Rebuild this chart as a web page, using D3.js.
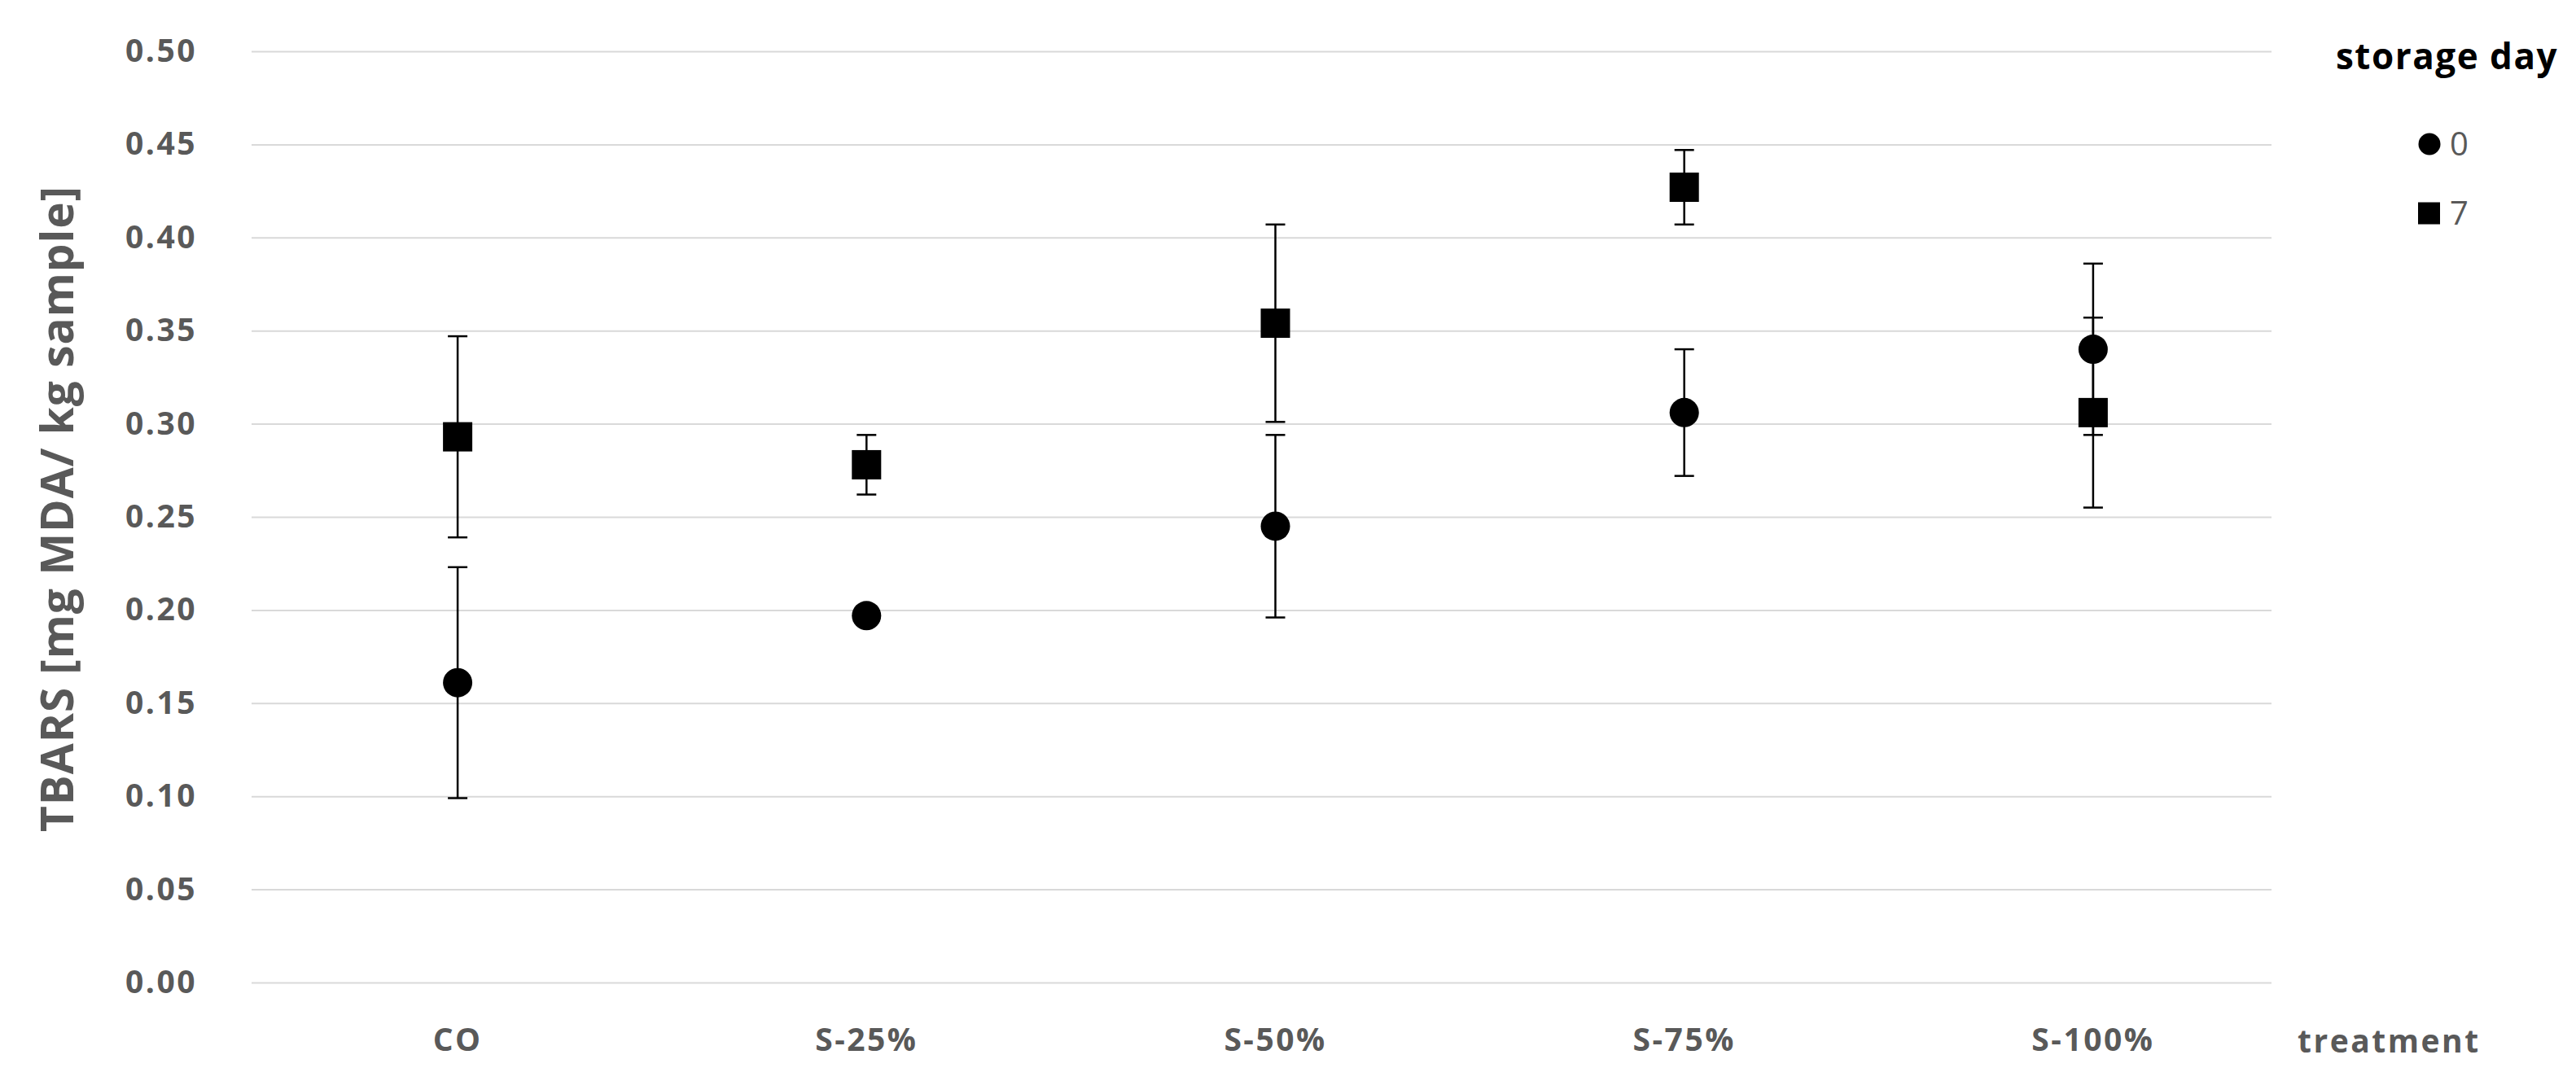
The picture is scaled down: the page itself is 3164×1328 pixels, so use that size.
<!DOCTYPE html>
<html>
<head>
<meta charset="utf-8">
<script src="https://cdn.jsdelivr.net/npm/d3@7"></script>
<style>
  body { margin: 0; background: #fff; }
  svg text { font-family: "Open Sans", "Noto Sans", sans-serif; }
</style>
</head>
<body>
<div id="chart"></div>
<script>
// Data (TBARS, mg MDA / kg sample)
const treatments = ["CO", "S-25%", "S-50%", "S-75%", "S-100%"];
const day0 = [0.161, 0.197, 0.245, 0.306, 0.340];
const err0 = [0.062, 0.002, 0.049, 0.034, 0.046];
const day7 = [0.293, 0.278, 0.354, 0.427, 0.306];
const err7 = [0.054, 0.016, 0.053, 0.020, 0.051];
const yTicks = [0, 0.05, 0.1, 0.15, 0.2, 0.25, 0.3, 0.35, 0.4, 0.45, 0.5];
const seriesNames = ["0", "7"];

const W = 3164, H = 1328;
const plot = { left: 309, right: 2790, top: 63, bottom: 1207 };
const grey = "#595959";

const svg = d3.select("#chart").append("svg")
  .attr("width", W).attr("height", H);

// scales
const x = d3.scaleBand().domain(treatments).range([311, 2822]);
const xc = (d) => x(d) + x.bandwidth() / 2;
const y = d3.scaleLinear().domain([0, 0.5]).range([plot.bottom, plot.top]);

// gridlines + y tick labels
const yAxis = svg.append("g")
  .attr("transform", `translate(${plot.left},0)`)
  .call(d3.axisLeft(y).tickValues(yTicks)
    .tickFormat(d3.format(".2f"))
    .tickSize(-(plot.right - plot.left))
    .tickPadding(67));
yAxis.select(".domain").remove();
yAxis.selectAll("line").attr("stroke", "#d9d9d9").attr("stroke-width", 2);
yAxis.selectAll("text")
  .attr("fill", grey)
  .style("font-size", "39px")
  .style("font-weight", 700)
  .style("letter-spacing", "2.5px");

// x tick labels
const xAxis = svg.append("g")
  .attr("transform", `translate(0,${plot.bottom})`)
  .call(d3.axisBottom(x).tickSize(0).tickPadding(56));
xAxis.select(".domain").remove();
xAxis.selectAll("text")
  .attr("fill", grey)
  .style("font-size", "39px")
  .style("font-weight", 700)
  .style("letter-spacing", "2.5px");

// axis titles
svg.append("text")
  .attr("transform", `translate(90,${(plot.top + plot.bottom) / 2 - 10}) rotate(-90)`)
  .attr("text-anchor", "middle")
  .attr("fill", grey)
  .style("font-size", "55px")
  .style("font-weight", 700)
  .style("letter-spacing", "1px")
  .text("TBARS [mg MDA/ kg sample]");

svg.append("text")
  .attr("x", 2822).attr("y", 1293)
  .attr("fill", grey)
  .style("font-size", "39px")
  .style("font-weight", 700)
  .style("letter-spacing", "2.5px")
  .text("treatment");

// build series rows
const series = [
  { name: "0", shape: "circle", rows: treatments.map((t, i) => ({ t, v: day0[i], e: err0[i] })) },
  { name: "7", shape: "square", rows: treatments.map((t, i) => ({ t, v: day7[i], e: err7[i] })) }
];

const capW = 12;
const marks = svg.append("g");

// error bars first (markers sit on top)
series.forEach((s) => {
  const g = marks.append("g").attr("stroke", "#000").attr("stroke-width", 2.5);
  s.rows.filter((d) => d.e > 0.004).forEach((d) => {
    const cx = xc(d.t);
    g.append("line").attr("x1", cx).attr("x2", cx)
      .attr("y1", y(d.v + d.e)).attr("y2", y(d.v - d.e));
    [d.v + d.e, d.v - d.e].forEach((b) => {
      g.append("line").attr("x1", cx - capW).attr("x2", cx + capW)
        .attr("y1", y(b)).attr("y2", y(b));
    });
  });
});

series.forEach((s) => {
  const sel = marks.selectAll(null).data(s.rows).enter();
  if (s.shape === "circle") {
    sel.append("circle")
      .attr("cx", (d) => xc(d.t)).attr("cy", (d) => y(d.v))
      .attr("r", 18).attr("fill", "#000");
  } else {
    sel.append("rect")
      .attr("x", (d) => xc(d.t) - 18).attr("y", (d) => y(d.v) - 18)
      .attr("width", 36).attr("height", 36).attr("fill", "#000");
  }
});

// legend
const legend = svg.append("g");
legend.append("text")
  .attr("x", 2869).attr("y", 85)
  .attr("fill", "#000")
  .style("font-size", "44px")
  .style("font-weight", 700)
  .style("letter-spacing", "1.5px")
  .text("storage day");

seriesNames.forEach((name, i) => {
  const ly = 177 + i * 85;
  if (i === 0) {
    legend.append("circle").attr("cx", 2984).attr("cy", ly).attr("r", 13.5).attr("fill", "#000");
  } else {
    legend.append("rect").attr("x", 2970).attr("y", ly - 13.5)
      .attr("width", 27).attr("height", 27).attr("fill", "#000");
  }
  legend.append("text")
    .attr("x", 3009).attr("y", ly).attr("dy", "0.36em")
    .attr("fill", grey)
    .style("font-size", "40px")
    .style("font-family", "'Liberation Sans Narrow', 'Open Sans', sans-serif")
    .text(name);
});
</script>
</body>
</html>
